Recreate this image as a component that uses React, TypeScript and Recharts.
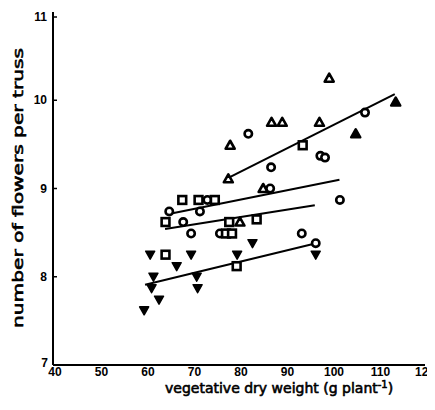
import { ScatterChart, Scatter, XAxis, YAxis, ReferenceLine } from "recharts";

// vegetative dry weight (g/plant) vs flowers per truss, grouped by marker
const openUp = [
  { x: 78.1, y: 9.49 },
  { x: 77.7, y: 9.11 },
  { x: 87.0, y: 9.75 },
  { x: 89.3, y: 9.75 },
  { x: 97.3, y: 9.75 },
  { x: 99.4, y: 10.25 },
  { x: 85.2, y: 9.0 },
  { x: 80.2, y: 8.62 },
];
const filledUp = [
  { x: 105.1, y: 9.62 },
  { x: 113.7, y: 9.98 },
];
const circles = [
  { x: 82.0, y: 9.62 },
  { x: 107.1, y: 9.86 },
  { x: 97.5, y: 9.37 },
  { x: 98.5, y: 9.35 },
  { x: 86.9, y: 9.24 },
  { x: 86.7, y: 9.0 },
  { x: 101.7, y: 8.87 },
  { x: 93.5, y: 8.49 },
  { x: 75.9, y: 8.49 },
  { x: 69.7, y: 8.49 },
  { x: 65.0, y: 8.74 },
  { x: 71.6, y: 8.74 },
  { x: 68.0, y: 8.62 },
  { x: 73.2, y: 8.87 },
  { x: 96.5, y: 8.38 },
];
const squares = [
  { x: 67.8, y: 8.87 },
  { x: 71.3, y: 8.87 },
  { x: 74.8, y: 8.87 },
  { x: 64.2, y: 8.62 },
  { x: 77.9, y: 8.62 },
  { x: 83.8, y: 8.65 },
  { x: 93.7, y: 9.49 },
  { x: 77.2, y: 8.49 },
  { x: 78.5, y: 8.49 },
  { x: 64.2, y: 8.25 },
  { x: 79.5, y: 8.12 },
];
const filledDown = [
  { x: 60.9, y: 8.25 },
  { x: 69.7, y: 8.25 },
  { x: 66.6, y: 8.12 },
  { x: 61.6, y: 8.0 },
  { x: 70.9, y: 8.0 },
  { x: 61.2, y: 7.87 },
  { x: 71.1, y: 7.87 },
  { x: 62.8, y: 7.74 },
  { x: 59.6, y: 7.62 },
  { x: 79.6, y: 8.25 },
  { x: 82.9, y: 8.38 },
  { x: 96.5, y: 8.25 },
];

// regression lines, start and end points
const fitUp = [
  { x: 77.7, y: 9.12 },
  { x: 113.5, y: 10.07 },
];
const fitCircle = [
  { x: 64.9, y: 8.71 },
  { x: 101.6, y: 9.1 },
];
const fitSquare = [
  { x: 64.1, y: 8.54 },
  { x: 96.3, y: 8.81 },
];
const fitDown = [
  { x: 59.8, y: 7.91 },
  { x: 96.6, y: 8.38 },
];

const xTicks = [40, 50, 60, 70, 80, 90, 100, 110, 120];
const yTicks = [7, 8, 9, 10, 11];

const tickFont = "'Liberation Sans Narrow', 'Liberation Sans', sans-serif";
const labelFont = "'DejaVu Sans', sans-serif";

const TriUp = ({ cx, cy, fill = "#fff" }: any) => (
  <polygon
    points={`${cx},${cy - 4.5} ${cx + 4.5},${cy + 3.5} ${cx - 4.5},${cy + 3.5}`}
    fill={fill}
    stroke="#000"
    strokeWidth={2.6}
    strokeLinejoin="round"
  />
);
const TriDown = ({ cx, cy }: any) => (
  <polygon
    points={`${cx - 4.5},${cy - 3.5} ${cx + 4.5},${cy - 3.5} ${cx},${cy + 4.5}`}
    fill="#000"
    stroke="#000"
    strokeWidth={1.5}
    strokeLinejoin="round"
  />
);
const Ring = ({ cx, cy }: any) => (
  <circle cx={cx} cy={cy} r={3.7} fill="#fff" stroke="#000" strokeWidth={2.6} />
);
const Box = ({ cx, cy }: any) => (
  <rect x={cx - 3.9} y={cy - 3.9} width={7.8} height={7.8} fill="#fff" stroke="#000" strokeWidth={2.6} />
);

const XTick = ({ x, y, payload }: any) => (
  <text x={x + 2} y={y} dy="0.71em" textAnchor="middle" fontFamily={tickFont} fontWeight="bold" fontSize={12} fill="#000">
    {payload.value}
  </text>
);

const YTick = ({ x, y, payload }: any) => (
  <g>
    <line x1={x + 6} x2={x + 10} y1={y} y2={y} stroke="#000" strokeWidth={1.5} />
    <text
      x={payload.value === 7 ? x + 1 : x}
      y={payload.value === 7 ? y - 2 : y}
      dy="0.35em"
      textAnchor="end"
      fontFamily={tickFont}
      fontWeight="bold"
      fontSize={12}
      fill="#000"
    >
      {payload.value}
    </text>
  </g>
);

const XTitle = () => (
  <text x={157} y={385} fontFamily={labelFont} fontSize={14} fill="#000" stroke="#000" strokeWidth={0.6}>
    vegetative dry weight (g plant
    <tspan dy={-5} fontSize={10}>-1</tspan>
    <tspan dy={5}>)</tspan>
  </text>
);

const YTitle = () => (
  <text
    transform="translate(14.5,180) rotate(-90)"
    textAnchor="middle"
    fontFamily={labelFont}
    fontSize={14.5}
    fill="#000"
    stroke="#000"
    strokeWidth={0.6}
    textLength={280}
    lengthAdjust="spacingAndGlyphs"
  >
    number of flowers per truss
  </text>
);

const fits = [fitUp, fitCircle, fitSquare, fitDown];

export default function App() {
  return (
    <div style={{ background: "#fff", width: 427, height: 402 }}>
      <ScatterChart width={427} height={402} margin={{ top: 4, right: 10, bottom: 0, left: 0 }}>
        <XAxis
          type="number"
          dataKey="x"
          domain={[40, 120]}
          ticks={xTicks}
          tick={<XTick />}
          tickLine={false}
          tickSize={0}
          tickMargin={2}
          height={45}
          axisLine={{ stroke: "#000", strokeWidth: 2 }}
          label={{ content: XTitle }}
        />
        <YAxis
          type="number"
          dataKey="y"
          domain={[7, 11]}
          ticks={yTicks}
          tick={<YTick />}
          tickLine={false}
          tickSize={0}
          tickMargin={6}
          width={45}
          axisLine={{ stroke: "#000", strokeWidth: 2 }}
          label={{ content: YTitle }}
        />
        {fits.map((seg, i) => (
          <ReferenceLine
            key={i}
            segment={[seg[0], seg[1]]}
            stroke="#000"
            strokeWidth={2}
          />
        ))}
        <Scatter data={openUp} shape={(p: any) => <TriUp {...p} />} isAnimationActive={false} />
        <Scatter data={filledUp} shape={(p: any) => <TriUp {...p} fill="#000" />} isAnimationActive={false} />
        <Scatter data={circles} shape={(p: any) => <Ring {...p} />} isAnimationActive={false} />
        <Scatter data={squares} shape={(p: any) => <Box {...p} />} isAnimationActive={false} />
        <Scatter data={filledDown} shape={(p: any) => <TriDown {...p} />} isAnimationActive={false} />
      </ScatterChart>
    </div>
  );
}
